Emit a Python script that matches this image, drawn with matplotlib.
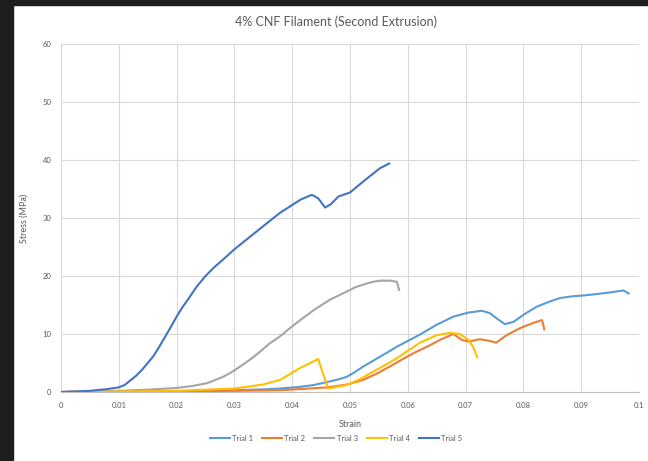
import matplotlib
matplotlib.use("Agg")
import matplotlib.pyplot as plt
from matplotlib.patches import Rectangle

plt.rcParams['font.family'] = ['Lato', 'DejaVu Sans']

# stress-strain traces (strain, MPa)
trial1_strain = [0, 0.01, 0.02, 0.03, 0.035, 0.0379, 0.041, 0.0437, 0.046, 0.0477, 0.0494,
                 0.0508, 0.0523, 0.0537, 0.0552, 0.0566, 0.0581, 0.06, 0.0621, 0.065,
                 0.0679, 0.0705, 0.0728, 0.0742, 0.0755, 0.0768, 0.0783, 0.0803, 0.0823,
                 0.0843, 0.0863, 0.0885, 0.091, 0.0945, 0.0973, 0.0982]
trial1_stress = [0, 0.05, 0.15, 0.3, 0.45, 0.6, 0.85, 1.2, 1.7, 2.1, 2.6,
                 3.4, 4.4, 5.2, 6.1, 6.9, 7.8, 8.8, 9.9, 11.6,
                 13.0, 13.7, 14.0, 13.6, 12.6, 11.7, 12.1, 13.5, 14.7,
                 15.5, 16.2, 16.5, 16.7, 17.1, 17.5, 17.0]

trial2_strain = [0, 0.01, 0.02, 0.03, 0.0379, 0.0462, 0.0495, 0.0523, 0.0547, 0.0569, 0.059,
                 0.061, 0.0635, 0.0656, 0.0679, 0.0693, 0.0705, 0.0725, 0.0742, 0.0753,
                 0.0771, 0.0794, 0.0817, 0.0832, 0.0834, 0.0836]
trial2_stress = [0, 0.05, 0.1, 0.2, 0.3, 0.8, 1.3, 2.1, 3.2, 4.4, 5.6,
                 6.7, 7.9, 9.0, 10.0, 9.0, 8.7, 9.1, 8.8, 8.5,
                 9.8, 11.0, 11.9, 12.4, 11.8, 10.8]

trial3_strain = [0, 0.01, 0.015, 0.02, 0.0225, 0.0252, 0.0265, 0.028, 0.0295, 0.031, 0.033,
                 0.0345, 0.036, 0.0379, 0.0396, 0.041, 0.0437, 0.0465, 0.0494, 0.051,
                 0.0529, 0.054, 0.0552, 0.0569, 0.0581, 0.0583, 0.0585]
trial3_stress = [0, 0.2, 0.4, 0.7, 1.0, 1.5, 2.0, 2.6, 3.4, 4.4, 5.8,
                 7.0, 8.3, 9.6, 11.0, 12.1, 14.1, 15.9, 17.3, 18.1,
                 18.7, 19.0, 19.2, 19.2, 19.0, 18.3, 17.6]

trial4_strain = [0, 0.01, 0.02, 0.03, 0.035, 0.0379, 0.0413, 0.0445, 0.0462, 0.0494, 0.0515,
                 0.054, 0.056, 0.0581, 0.06, 0.0621, 0.065, 0.0673, 0.069, 0.0705, 0.0713,
                 0.072]
trial4_stress = [0, 0.1, 0.2, 0.6, 1.3, 2.1, 4.1, 5.7, 0.6, 1.2, 2.1,
                 3.5, 4.6, 5.8, 7.1, 8.5, 9.8, 10.2, 10.0, 9.0, 7.8,
                 6.0]

trial5_strain = [0, 0.005, 0.008, 0.01, 0.011, 0.012, 0.013, 0.014, 0.015, 0.016, 0.017,
                 0.018, 0.019, 0.02, 0.021, 0.022, 0.0235, 0.025, 0.0265, 0.028, 0.03,
                 0.033, 0.0355, 0.0379, 0.0415, 0.0434, 0.0445, 0.0457, 0.0467, 0.048,
                 0.05, 0.0523, 0.0552, 0.0568]
trial5_stress = [0, 0.2, 0.5, 0.8, 1.2, 2.0, 2.8, 3.8, 5.0, 6.2, 7.8,
                 9.5, 11.2, 13.0, 14.6, 16.0, 18.2, 20.0, 21.5, 22.8, 24.6,
                 27.0, 29.0, 30.9, 33.2, 34.0, 33.4, 31.8, 32.4, 33.7,
                 34.4, 36.3, 38.6, 39.4]

labels = ["Trial 1", "Trial 2", "Trial 3", "Trial 4", "Trial 5"]
colors = ["#5B9BD5", "#ED7D31", "#A5A5A5", "#FFC000", "#4472C4"]
series = [(trial1_strain, trial1_stress), (trial2_strain, trial2_stress),
          (trial3_strain, trial3_stress), (trial4_strain, trial4_stress),
          (trial5_strain, trial5_stress)]

x_ticks = [0, 0.01, 0.02, 0.03, 0.04, 0.05, 0.06, 0.07, 0.08, 0.09, 0.1]
x_tick_labels = ["0", "0.01", "0.02", "0.03", "0.04", "0.05", "0.06", "0.07", "0.08", "0.09", "0.1"]
y_ticks = [0, 10, 20, 30, 40, 50, 60]

fig = plt.figure(figsize=(6.48, 4.61), dpi=100)
ax = fig.add_axes([61 / 648, 1 - 392 / 461, 578 / 648, 348 / 461])

for (xs, ys), lab, c in zip(series, labels, colors):
    ax.plot(xs, ys, color=c, lw=1.5, label=lab, solid_joinstyle='round')

ax.set_xlim(0, 0.1)
ax.set_ylim(0, 60)
ax.set_xticks(x_ticks)
ax.set_xticklabels(x_tick_labels)
ax.set_yticks(y_ticks)
ax.grid(True, color="#D9D9D9", lw=0.8)
ax.set_axisbelow(True)
for side in ["top", "right", "left"]:
    ax.spines[side].set_visible(False)
ax.spines["bottom"].set_color("#BFBFBF")
ax.tick_params(length=0, labelsize=5.5, labelcolor="#595959", pad=7)

ax.set_xlabel("Strain", fontsize=6.5, color="#595959", labelpad=8)
ax.set_ylabel("Stress (MPa)", fontsize=6.5, color="#595959", labelpad=10)
fig.text(336 / 648, 1 - 22 / 461, "4% CNF Filament (Second Extrusion)", ha="center", va="center",
         fontsize=9, color="#595959")

fig.legend(loc="center", bbox_to_anchor=(336 / 648, 1 - 438 / 461), ncol=5, frameon=False,
           fontsize=5.5, labelcolor="#595959", handlelength=2.6, handletextpad=0.3,
           columnspacing=1.2)

# dark frame strips around the chart
fig.patches.append(Rectangle((0, 0), 13 / 648, 1, transform=fig.transFigure,
                             color="#1E1E1E", zorder=-1))
fig.patches.append(Rectangle((0, 1 - 5 / 461), 1, 5 / 461, transform=fig.transFigure,
                             color="#1E1E1E", zorder=-1))

fig.savefig("out.png", dpi=100)
